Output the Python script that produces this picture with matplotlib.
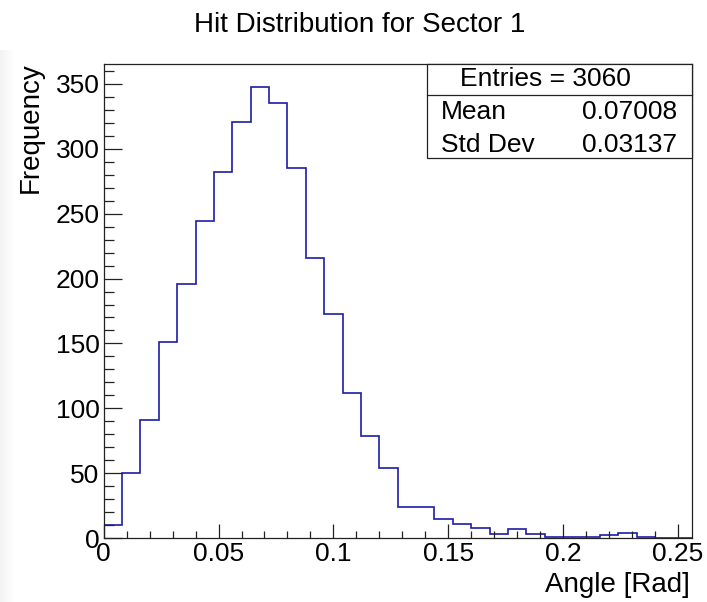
import numpy as np
import matplotlib
matplotlib.use("Agg")
import matplotlib.pyplot as plt
from matplotlib.patches import Rectangle
from matplotlib.ticker import MultipleLocator, FormatStrFormatter

plt.rcParams['font.family'] = ['Liberation Sans', 'DejaVu Sans']

# Histogram contents: 32 bins of width 0.008 rad from 0 to 0.256
bin_width = 0.008
n_bins = 32
counts = [10, 50, 91, 151, 196, 244, 282, 321, 348, 335, 285, 216, 173, 112,
          79, 54, 24, 24, 15, 11, 8, 3, 7, 3, 1, 1, 1, 2, 4, 1, 0, 0]
edges = np.arange(n_bins + 1) * bin_width

title = "Hit Distribution for Sector 1"
x_label = "Angle [Rad]"
y_label = "Frequency"
stat_entries = 3060
stat_mean = 0.07008
stat_std = 0.03137

W, H = 707, 602
fig = plt.figure(figsize=(W / 100, H / 100), dpi=100)
fig.patch.set_facecolor("white")


def fx(px):
    return px / W


def fy(py):
    return 1 - py / H


# faint grey fade along the left border
grad = np.linspace(0.95, 1.0, 16)[None, :].repeat(10, axis=0)
bg = fig.add_axes([0, 0, fx(16), fy(50)], zorder=-5)
bg.imshow(grad, cmap="gray", vmin=0, vmax=1, aspect="auto",
          interpolation="bilinear", extent=[0, 1, 0, 1])
bg.axis("off")

ax_l, ax_r, ax_t, ax_b = 103.7, 691.7, 64.0, 538.0
ax = fig.add_axes([fx(ax_l), fy(ax_b), fx(ax_r - ax_l), (ax_b - ax_t) / H])
ax.set_facecolor("white")

ax.stairs(counts, edges, baseline=0, color="#1c1ca8", linewidth=1.2)

ax.set_xlim(0, n_bins * bin_width)
ax.set_ylim(0, 1.05 * max(counts))

ax.xaxis.set_major_locator(MultipleLocator(0.05))
ax.xaxis.set_minor_locator(MultipleLocator(0.01))
ax.xaxis.set_major_formatter(FormatStrFormatter('%g'))
ax.yaxis.set_major_locator(MultipleLocator(50))
ax.yaxis.set_minor_locator(MultipleLocator(10))

ax.tick_params(axis='both', which='both', direction='in', top=False, right=False,
               width=0.9, color="#222222", labelsize=19, labelcolor="black")
ax.tick_params(axis='x', which='major', length=10, pad=3)
ax.tick_params(axis='x', which='minor', length=5)
ax.tick_params(axis='y', which='major', length=13, pad=3)
ax.tick_params(axis='y', which='minor', length=7.4)
for sp in ax.spines.values():
    sp.set_linewidth(0.9)
    sp.set_color("#222222")

fig.text(fx(360), fy(32), title, ha='center', va='baseline', fontsize=20)
fig.text(fx(690), fy(592), x_label, ha='right', va='baseline', fontsize=20)
fig.text(fx(31), fy(62), y_label, ha='center', va='top', rotation=90, fontsize=20)

# statistics box
bx0, bx1, by0, by1, bdiv = 427.3, ax_r, ax_t, 158.3, 94.5
fig.patches.append(Rectangle((fx(bx0), fy(by1)), fx(bx1 - bx0), (by1 - by0) / H,
                             transform=fig.transFigure, facecolor="white",
                             edgecolor="#222222", linewidth=0.9, zorder=5))
fig.lines.append(plt.Line2D([fx(bx0), fx(bx1)], [fy(bdiv), fy(bdiv)],
                            transform=fig.transFigure, color="#222222",
                            linewidth=0.9, zorder=6))
fig.text(fx(545), fy(79), f"Entries = {stat_entries}", ha='center', va='center',
         fontsize=19, zorder=7)
fig.text(fx(440.7), fy(111.7), "Mean", ha='left', va='center', fontsize=19, zorder=7)
fig.text(fx(677.3), fy(111.7), f"{stat_mean:.5f}", ha='right', va='center',
         fontsize=19, zorder=7)
fig.text(fx(440.7), fy(145), "Std Dev", ha='left', va='center', fontsize=19, zorder=7)
fig.text(fx(677.3), fy(145), f"{stat_std:.5f}", ha='right', va='center',
         fontsize=19, zorder=7)

fig.savefig("out.png", dpi=100)
